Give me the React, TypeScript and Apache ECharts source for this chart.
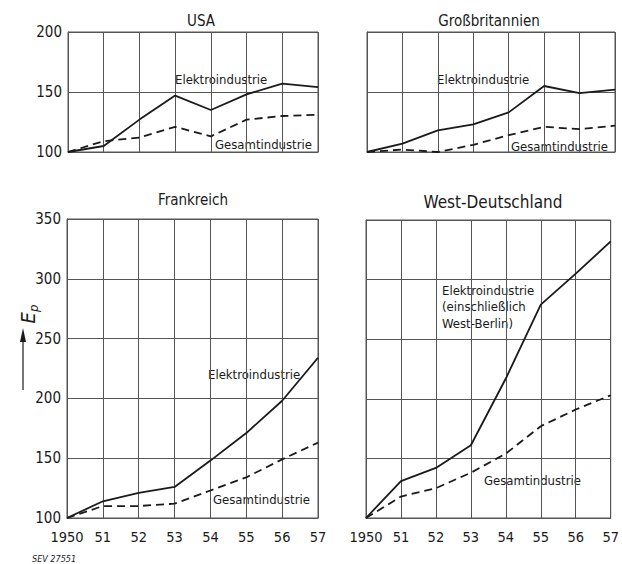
import React, { useEffect, useRef } from "react";
import * as echarts from "echarts";

const years = [1950, 1951, 1952, 1953, 1954, 1955, 1956, 1957];

const usaElektro = [100, 105, 127, 147, 135, 148, 157, 154];
const usaGesamt = [100, 109, 112, 121, 113, 127, 130, 131];

const gbElektro = [100, 107, 118, 123, 133, 155, 149, 152];
const gbGesamt = [100, 102, 100, 106, 114, 121, 119, 122];

const frElektro = [100, 114, 121, 126, 148, 171, 198, 234];
const frGesamt = [100, 110, 110, 112, 123, 134, 149, 163];

const wdElektro = [100, 131, 142, 161, 217, 279, 305, 332];
const wdGesamt = [100, 118, 125, 138, 154, 177, 191, 203];

const panelTitles = ["USA", "Großbritannien", "Frankreich", "West-Deutschland"];
const topTicks = [100, 150, 200];
const bottomTicks = [100, 150, 200, 250, 300, 350];

const FONT = "'Liberation Sans Narrow', 'DejaVu Sans Condensed', 'Roboto Condensed', sans-serif";
const INK = "#1a1a1a";
const GRID = "#555";

const grids = [
  { left: 68, top: 32, width: 250, height: 120 },
  { left: 367, top: 32, width: 248, height: 120 },
  { left: 67, top: 219, width: 251, height: 299 },
  { left: 366, top: 220, width: 248, height: 298 },
];

function pairs(vals: number[]) {
  return years.map((y, i) => [y, vals[i]]);
}

export default function App() {
  const ref = useRef<HTMLDivElement>(null);
  useEffect(() => {
    document.body.style.margin = "0";
    const chart = echarts.init(ref.current!, null, { renderer: "svg" });
    const isBottom = (i: number) => i >= 2;
    const isLeft = (i: number) => i % 2 === 0;

    const xAxis = grids.map((_, i) => ({
      type: "value" as const,
      gridIndex: i,
      min: 1950,
      max: 1957,
      interval: 1,
      axisLine: { show: true, lineStyle: { color: GRID, width: 1 } },
      axisTick: { show: false },
      splitLine: { show: true, lineStyle: { color: GRID, width: 1 } },
      axisLabel: {
        show: isBottom(i),
        fontFamily: FONT,
        fontSize: 14.5,
        color: INK,
        margin: 11,
        formatter: (v: number) => (v === 1950 ? "1950" : String(v).slice(2)),
      },
    }));

    const yAxis = grids.map((_, i) => {
      const ticks = isBottom(i) ? bottomTicks : topTicks;
      return {
        type: "value" as const,
        gridIndex: i,
        min: ticks[0],
        max: ticks[ticks.length - 1],
        interval: 50,
        axisLine: { show: true, lineStyle: { color: GRID, width: 1 } },
        axisTick: { show: false },
        splitLine: { show: true, lineStyle: { color: GRID, width: 1 } },
        axisLabel: {
          show: isLeft(i),
          fontFamily: FONT,
          fontSize: 15,
          color: INK,
          margin: 6,
        },
      };
    });

    const elektro = [usaElektro, gbElektro, frElektro, wdElektro];
    const gesamt = [usaGesamt, gbGesamt, frGesamt, wdGesamt];
    const series: any[] = [];
    for (let i = 0; i < 4; i++) {
      series.push({
        type: "line",
        xAxisIndex: i,
        yAxisIndex: i,
        data: pairs(elektro[i]),
        symbol: "none",
        lineStyle: { color: INK, width: 1.8 },
      });
      series.push({
        type: "line",
        xAxisIndex: i,
        yAxisIndex: i,
        data: pairs(gesamt[i]),
        symbol: "none",
        lineStyle: { color: INK, width: 1.8, type: [8, 5] },
      });
    }

    const titleCenters = [
      [196, 8, 15],
      [484, 8, 15],
      [188, 187, 15],
      [488, 188, 17],
    ];
    const title = panelTitles.map((t, i) => ({
      text: t,
      left: titleCenters[i][0],
      top: titleCenters[i][1],
      textAlign: "center",
      textStyle: {
        fontFamily: FONT,
        fontSize: titleCenters[i][2],
        fontWeight: "normal",
        color: INK,
      },
    }));

    const annot = (text: string, x: number, y: number) => ({
      type: "text",
      x,
      y,
      style: {
        text,
        fontFamily: FONT,
        fontSize: 13,
        fill: INK,
        textVerticalAlign: "middle",
        lineHeight: 16,
      },
    });

    const graphic: any[] = [
      annot("Elektroindustrie", 175, 79),
      annot("Gesamtindustrie", 215, 144),
      annot("Elektroindustrie", 437, 79),
      annot("Gesamtindustrie", 511, 146),
      annot("Elektroindustrie", 208, 374),
      annot("Gesamtindustrie", 213, 499),
      {
        type: "text",
        x: 442,
        y: 282,
        style: {
          text: "Elektroindustrie\n(einschließlich\nWest-Berlin)",
          fontFamily: FONT,
          fontSize: 13,
          fill: INK,
          lineHeight: 16.5,
        },
      },
      annot("Gesamtindustrie", 484, 480),
      {
        type: "line",
        shape: { x1: 23, y1: 390, x2: 23, y2: 338 },
        style: { stroke: INK, lineWidth: 1.2 },
      },
      {
        type: "polygon",
        shape: { points: [[23, 328], [20, 342], [26, 342]] },
        style: { fill: INK },
      },
      {
        type: "text",
        x: 28,
        y: 314,
        rotation: Math.PI / 2,
        style: {
          text: "{e|E}{p|p}",
          rich: {
            e: { fontFamily: FONT, fontSize: 20, fontStyle: "italic", fill: INK },
            p: { fontFamily: FONT, fontSize: 13, fontStyle: "italic", fill: INK, padding: [10, 0, 0, 0] },
          },
          align: "center",
          verticalAlign: "middle",
        },
      },
      {
        type: "text",
        x: 32,
        y: 559,
        style: {
          text: "SEV 27551",
          fontFamily: FONT,
          fontSize: 9,
          fontStyle: "italic",
          fill: INK,
          textVerticalAlign: "middle",
        },
      },
    ];

    chart.setOption({
      animation: false,
      backgroundColor: "#fff",
      title,
      grid: grids.map((g) => ({ ...g, show: true, borderColor: GRID, borderWidth: 1, containLabel: false })),
      xAxis,
      yAxis,
      series,
      graphic,
    });
    return () => chart.dispose();
  }, []);
  return <div ref={ref} style={{ width: 622, height: 564 }} />;
}
